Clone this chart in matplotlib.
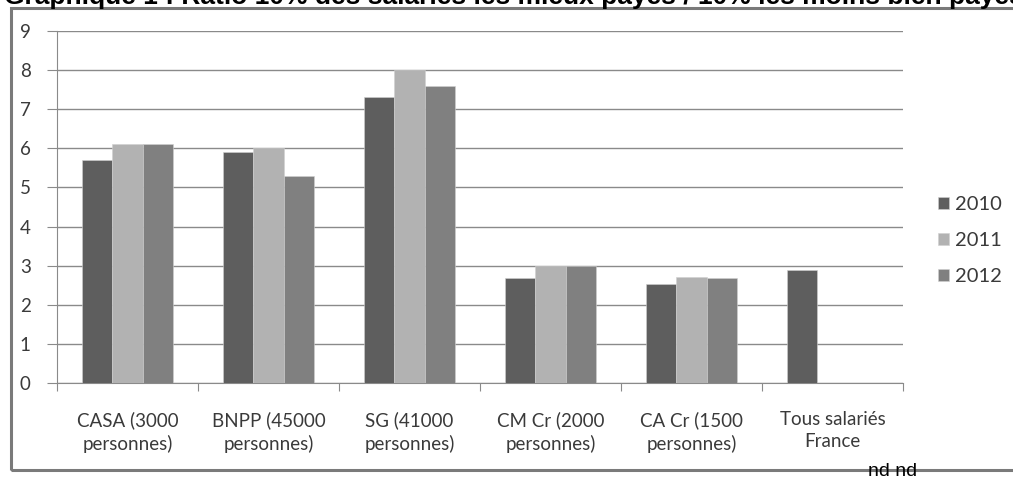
import numpy as np
import matplotlib.pyplot as plt
from matplotlib.patches import Rectangle

# données
categories = ['CASA (3000\npersonnes)', 'BNPP (45000\npersonnes)', 'SG (41000\npersonnes)',
              'CM Cr (2000\npersonnes)', 'CA Cr (1500\npersonnes)', 'Tous salariés\nFrance']
annees = ['2010', '2011', '2012']
v2010 = [5.7, 5.9, 7.3, 2.68, 2.53, 2.89]
v2011 = [6.1, 6.0, 8.0, 3.0, 2.7, np.nan]
v2012 = [6.1, 5.3, 7.6, 3.0, 2.68, np.nan]
couleurs = ['#5e5e5e', '#b2b2b2', '#808080']

plt.rcParams['font.family'] = ['Lato', 'DejaVu Sans']

fig = plt.figure(figsize=(10.13, 4.8), dpi=100)

# cadre du graphique
fig.patches.append(Rectangle((11 / 1013, 10 / 480), 1.1, 462 / 480, transform=fig.transFigure,
                             fill=False, edgecolor='#7a7a7a', linewidth=2.2, zorder=0))

# titre (coupé en haut comme dans l'original)
fig.text(0.004, 1 - 4 / 480, 'Graphique 1 : Ratio 10% des salariés les mieux payés / 10% les moins bien payés',
         fontsize=19, fontweight='bold', family='Liberation Sans', va='baseline', ha='left')

ax = fig.add_axes([57 / 1013, 1 - 383 / 480, (903 - 57) / 1013, (383 - 31) / 480])

x = np.arange(len(categories))
w = 0.213
for i, (vals, an) in enumerate(zip([v2010, v2011, v2012], annees)):
    ax.bar(x + (i - 1) * w, vals, w, color=couleurs[i], edgecolor='#d0d0d0', linewidth=0.4,
           label=an, zorder=3)

ax.set_xlim(-0.5, len(categories) - 0.5)
ax.set_ylim(0, 9)
ax.set_yticks(range(0, 10))
ax.yaxis.grid(True, color='#8a8a8a', linewidth=1.0, zorder=0)

ax.set_xticks(np.arange(len(categories) + 1) - 0.5)
ax.set_xticklabels([])
ax.set_xticks(x, minor=True)
ax.set_xticklabels(categories, minor=True, fontsize=13.5, color='#3a3a3a', linespacing=1.4)
ax.tick_params(axis='x', which='minor', length=0, pad=20)
ax.tick_params(axis='x', which='major', length=6, color='#8a8a8a', direction='out')
ax.tick_params(axis='y', length=7, color='#8a8a8a', labelsize=13.5, labelcolor='#3a3a3a', pad=12)

for s in ['top', 'right']:
    ax.spines[s].set_visible(False)
ax.spines['left'].set_color('#8a8a8a')
ax.spines['bottom'].set_color('#8a8a8a')

ax.legend(loc='center left', bbox_to_anchor=(1.02, 0.405), frameon=False, fontsize=14.5,
          handlelength=0.55, handleheight=0.55, handletextpad=0.3, labelspacing=0.95,
          labelcolor='#3a3a3a')

fig.text(868 / 1013, 1 - 472 / 480, 'nd nd', fontsize=14, family='Liberation Sans',
         va='center', ha='left')

fig.savefig('out.png', dpi=100)
